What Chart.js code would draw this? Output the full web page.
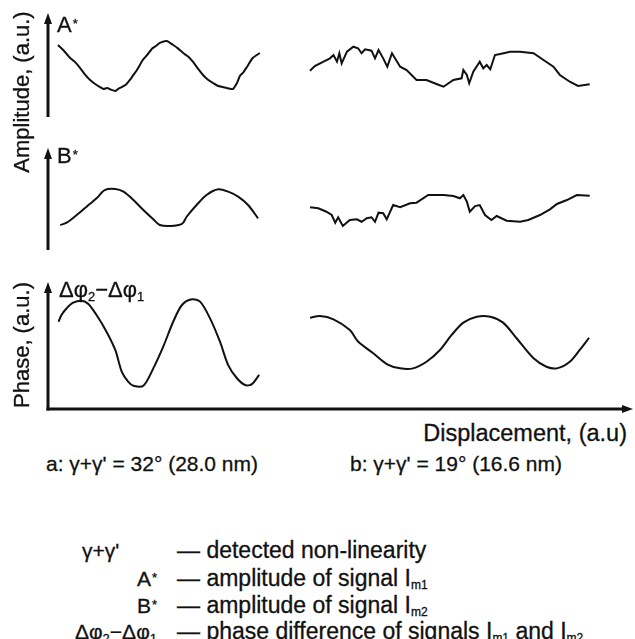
<!DOCTYPE html>
<html>
<head>
<meta charset="utf-8">
<script src="https://cdn.jsdelivr.net/npm/chart.js@4.4.1/dist/chart.umd.min.js"></script>
<style>
  body { margin: 0; background: #fff; }
  #page {
    position: relative; width: 635px; height: 639px; overflow: hidden;
    font-family: "Liberation Sans", Arial, sans-serif; font-size: 21px; line-height: 21px; color: #111;
    -webkit-text-stroke: 0.3px #111;
  }
  .panel { position: absolute; left: 0; width: 635px; }
  .txt { position: absolute; white-space: nowrap; }
  .lbl { font-size: 22px; line-height: 22px; }
  .big { font-size: 23px; line-height: 23px; }
  .rot { position: absolute; width: 220px; text-align: center; white-space: nowrap;
         font-size: 22px; line-height: 22px; transform: rotate(-90deg); }
  .ast { font-size: 13px; vertical-align: top; position: relative; top: -1px; margin-left: 1px; }
  .sub { font-size: 13px; position: relative; top: 4px; }
  .subs { font-size: 12px; position: relative; top: 3px; }
</style>
</head>
<body>
<div id="page">
  <div class="panel" style="top:13px;height:104px"><canvas id="chartA"></canvas></div>
  <div class="panel" style="top:148px;height:102px"><canvas id="chartB"></canvas></div>
  <div class="panel" style="top:282px;height:133px"><canvas id="chartPhase"></canvas></div>

  <div class="rot" style="left:-88px;top:81px">Amplitude, (a.u.)</div>
  <div class="rot" style="left:-88px;top:334px">Phase, (a.u.)</div>

  <div class="txt lbl" style="left:57px;top:14px">A<span class="ast">*</span></div>
  <div class="txt lbl" style="left:57px;top:145px">B<span class="ast">*</span></div>
  <div class="txt lbl" style="left:59px;top:279px">Δφ<span class="sub">2</span>−Δφ<span class="sub">1</span></div>

  <div class="txt" style="right:8px;top:422px;font-size:23.5px;line-height:23.5px">Displacement, (a.u)</div>
  <div class="txt" style="left:46px;top:453px">a: γ+γ' = 32° (28.0 nm)</div>
  <div class="txt" style="left:350px;top:453px">b: γ+γ' = 19° (16.6 nm)</div>

  <div class="txt" style="left:82px;top:540px">γ+γ'</div>
  <div class="txt big" style="left:177px;top:539px">— detected non-linearity</div>
  <div class="txt" style="left:0;width:157px;text-align:right;top:568px">A<span class="ast">*</span></div>
  <div class="txt big" style="left:177px;top:567px">— amplitude of signal I<span class="subs">m1</span></div>
  <div class="txt" style="left:0;width:157px;text-align:right;top:595px">B<span class="ast">*</span></div>
  <div class="txt big" style="left:177px;top:594px">— amplitude of signal I<span class="subs">m2</span></div>
  <div class="txt" style="left:0;width:157px;text-align:right;top:621px">Δφ<span class="sub">2</span>−Δφ<span class="sub">1</span></div>
  <div class="txt big" style="left:177px;top:620px">— phase difference of signals I<span class="subs">m1</span> and I<span class="subs">m2</span></div>
</div>

<script>
// displacement (a.u., 0..100 along the common axis) and signal values (a.u., 0..10 per panel)

// A* : a (left) and b (right)
const xAmpA_a = [1.7, 2.6, 3.8, 4.6, 5.5, 6.3, 7.2, 8.0, 8.9, 9.5, 10.1, 10.8, 11.5, 12.0, 12.6, 13.3, 14.0, 14.6, 15.2, 16.2,
                 17.0, 17.9, 18.5, 19.1, 20.3, 21.4, 22.2, 23.1, 24.0, 24.8, 25.7, 26.5, 27.3, 28.2, 29.0, 29.9, 30.8, 31.6,
                 32.3, 32.8, 33.4, 34.0, 35.0, 36.2];
const ampA_a = [6.92, 6.44, 5.67, 5.30, 4.71, 4.10, 3.56, 3.20, 2.88, 2.70, 2.79, 2.62, 2.50, 2.70, 2.88, 3.10, 3.56, 4.05,
                4.52, 5.48, 6.00, 6.63, 6.85, 7.12, 7.31, 6.92, 6.60, 6.15, 5.80, 5.29, 4.60, 4.04, 3.60, 3.27, 3.00, 2.88,
                2.75, 2.69, 3.27, 3.94, 4.30, 4.81, 5.67, 6.15];

const xAmpA_b = [44.8, 45.6, 47.1, 48.2, 48.8, 49.4, 49.8, 50.2, 51.1, 52.2, 53.0, 53.6, 54.2, 55.3, 55.9, 56.5, 57.3, 58.0,
                 58.8, 60.2, 61.3, 63.0, 64.7, 66.4, 67.6, 69.3, 70.7, 71.0, 71.6, 72.0, 72.7, 73.8, 74.4, 75.0, 75.6, 76.4,
                 77.3, 79.0, 80.7, 83.0, 84.7, 86.4, 87.5, 89.2, 90.6, 92.6];
const ampA_b = [4.45, 4.90, 5.32, 5.64, 5.96, 5.32, 6.13, 5.16, 6.28, 6.76, 6.61, 6.13, 6.51, 6.38, 5.64, 6.44, 5.64, 4.84,
                6.13, 4.84, 4.52, 3.56, 3.56, 3.17, 2.91, 3.56, 3.72, 4.52, 4.04, 3.24, 4.36, 5.32, 4.68, 5.00, 4.59, 5.96,
                6.06, 6.28, 6.28, 6.13, 5.48, 4.84, 4.04, 3.39, 2.98, 3.14];

// B*
const xAmpB_a = [2.1, 3.2, 4.9, 6.6, 8.3, 9.7, 11.5, 12.9, 14.6, 16.3, 18.0, 19.1, 20.9, 22.9, 23.7, 25.4, 27.1, 29.1,
                 30.8, 32.5, 34.2, 35.9];
const ampB_a = [2.45, 2.68, 3.43, 4.25, 5.07, 5.88, 5.98, 5.72, 4.90, 3.92, 3.01, 2.45, 2.35, 2.55, 3.26, 4.41, 5.39, 5.95,
                5.72, 5.23, 4.41, 3.11];

const xAmpB_b = [44.8, 46.2, 47.6, 48.5, 49.1, 49.6, 50.4, 51.6, 52.8, 53.6, 54.5, 55.3, 55.9, 56.5, 57.3, 57.9, 59.0, 60.2,
                 61.9, 63.0, 65.0, 67.6, 69.3, 70.4, 71.0, 71.6, 72.1, 73.0, 73.8, 74.7, 75.8, 76.7, 78.4, 80.7, 82.1, 84.1,
                 85.8, 87.0, 88.7, 90.4, 92.6];
const ampB_b = [4.19, 4.09, 3.75, 3.43, 2.68, 3.21, 2.35, 2.94, 3.01, 2.77, 3.11, 3.21, 2.77, 3.66, 3.60, 3.01, 4.41, 4.19,
                4.58, 4.64, 5.39, 5.39, 5.29, 5.07, 5.39, 4.74, 3.75, 4.31, 4.41, 3.43, 2.94, 3.33, 2.87, 2.77, 2.94, 3.43,
                3.99, 4.51, 4.90, 5.39, 5.32];

// phase difference
const xPhase_a = [1.8, 2.3, 3.2, 4.3, 5.8, 6.9, 8.3, 10.0, 11.5, 12.6, 13.7, 14.6, 16.3, 18.0, 19.7, 21.4, 22.9, 24.6,
                  26.0, 27.7, 29.4, 30.8, 32.3, 33.7, 34.8, 36.1];
const phase_a = [6.87, 7.40, 7.93, 8.37, 8.53, 8.27, 7.40, 6.09, 4.65, 2.94, 2.15, 1.83, 1.83, 3.20, 4.91, 6.87, 8.19, 8.64,
                 8.45, 7.14, 5.30, 3.46, 2.42, 1.89, 1.94, 2.68];

const xPhase_b = [44.8, 46.5, 48.8, 51.6, 53.0, 55.6, 57.9, 60.2, 62.4, 64.7, 67.0, 69.0, 71.0, 73.3, 75.6, 77.8, 80.1,
                  83.0, 85.2, 87.0, 89.2, 90.9, 92.5];
const phase_b = [7.19, 7.32, 7.06, 6.22, 5.31, 4.39, 3.54, 3.20, 3.20, 3.72, 4.65, 5.83, 6.80, 7.27, 7.27, 6.80, 5.57,
                 3.99, 3.33, 3.20, 3.72, 4.65, 5.61];

const INK = '#111';

// draws the arrowed axes along the chart area edges
const axisArrows = {
    id: 'axisArrows',
    afterDraw(chart, args, opts) {
        const {ctx, chartArea: {left, right, top, bottom}} = chart;
        ctx.save();
        ctx.strokeStyle = INK;
        ctx.fillStyle = INK;
        ctx.lineWidth = 3;

        ctx.beginPath();
        ctx.moveTo(left, bottom + (opts.xArrow ? 1.5 : 0));
        ctx.lineTo(left, top + 8);
        ctx.stroke();
        ctx.beginPath();
        ctx.moveTo(left, top);
        ctx.lineTo(left - 4, top + 11);
        ctx.lineTo(left + 4, top + 11);
        ctx.closePath();
        ctx.fill();

        if (opts.xArrow) {
            ctx.beginPath();
            ctx.moveTo(left - 1.5, bottom);
            ctx.lineTo(right - 8, bottom);
            ctx.stroke();
            ctx.beginPath();
            ctx.moveTo(right, bottom);
            ctx.lineTo(right - 11, bottom - 4);
            ctx.lineTo(right - 11, bottom + 4);
            ctx.closePath();
            ctx.fill();
        }
        ctx.restore();
    }
};

function toPoints(xs, ys) {
    return xs.map((x, i) => ({x: x, y: ys[i]}));
}

function makePanel(id, curves, xArrow) {
    return new Chart(document.getElementById(id), {
        type: 'line',
        data: {
            datasets: curves.map(c => ({
                data: toPoints(c.x, c.y),
                borderColor: INK,
                borderWidth: 2,
                pointRadius: 0,
                fill: false,
                tension: c.tension
            }))
        },
        options: {
            responsive: true,
            maintainAspectRatio: false,
            animation: false,
            layout: { padding: { left: 48, right: 2, top: 0, bottom: xArrow ? 6 : 0 } },
            plugins: {
                legend: { display: false },
                tooltip: { enabled: false },
                axisArrows: { xArrow: xArrow }
            },
            scales: {
                x: { type: 'linear', min: 0, max: 100, display: false },
                y: { min: 0, max: 10, display: false }
            }
        },
        plugins: [axisArrows]
    });
}

makePanel('chartA', [
    {x: xAmpA_a, y: ampA_a, tension: 0.2},
    {x: xAmpA_b, y: ampA_b, tension: 0}
], false);

makePanel('chartB', [
    {x: xAmpB_a, y: ampB_a, tension: 0.3},
    {x: xAmpB_b, y: ampB_b, tension: 0}
], false);

makePanel('chartPhase', [
    {x: xPhase_a, y: phase_a, tension: 0.3},
    {x: xPhase_b, y: phase_b, tension: 0.3}
], true);
</script>
</body>
</html>
